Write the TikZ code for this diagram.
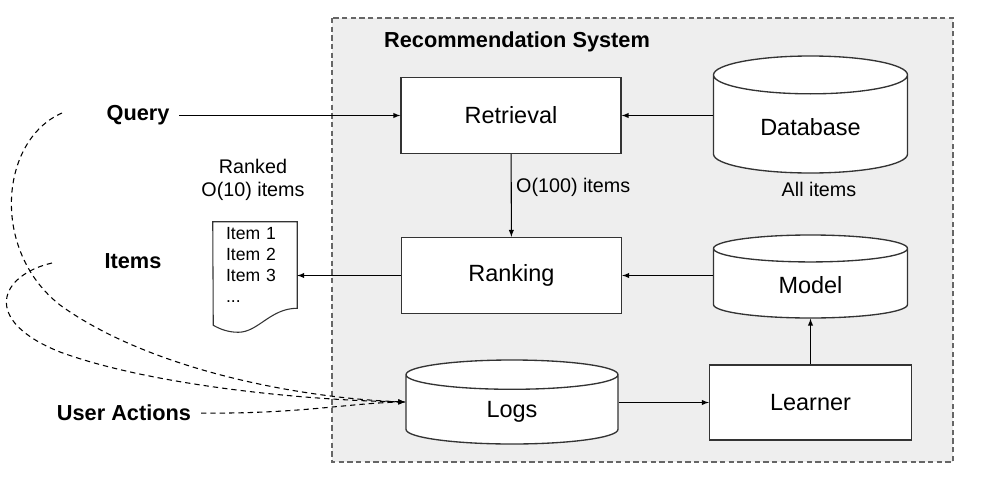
\documentclass[tikz,border=0pt]{standalone}
\usepackage{fontspec}
\setmainfont{Liberation Sans}
\usetikzlibrary{shapes.geometric,arrows}
\definecolor{sysgray}{HTML}{EEEEEE}
\definecolor{framegray}{HTML}{666666}
\definecolor{linegray}{HTML}{333333}

\begin{document}
\begin{tikzpicture}[
x=0.75pt,
y=-0.75pt,
box/.style={
    draw=linegray,
    fill=white,
    line width=1pt,
    font=\fontsize{17.6}{20}\selectfont,
    minimum width=165pt,
    minimum height=57pt
},
store/.style={
    cylinder,
    shape border rotate=90,
    draw=linegray,
    fill=white,
    line width=1pt,
    font=\fontsize{17.6}{20}\selectfont,
    minimum width=145.5pt,
    anchor=shape center
},
outside/.style={
    font=\bfseries\fontsize{16.3}{19}\selectfont
},
note/.style={
    font=\fontsize{14.8}{17.25}\selectfont,
    align=center
},
doc/.style={
    font=\fontsize{13.2}{15.75}\selectfont,
    align=left,
    text width=43.5pt,
    inner xsep=9.75pt,
    minimum height=64.5pt
},
link/.style={
    ->,
    line width=0.8pt
},
feedback/.style={
    ->,
    line width=0.8pt,
    dash pattern=on 4pt off 3pt
},
>=latex
]
\useasboundingbox (0,0) rectangle (1002,496);

\draw[framegray, fill=sysgray, line width=0.8pt, dash pattern=on 4pt off 2.5pt] (332,18) rectangle (953,462);
\node[outside] (systitle) at (517,42) {Recommendation System};

\node[box] (retrieval) at (511,115.5) {Retrieval};
\node[box] (ranking) at (511.5,275.5) {Ranking};
\node[box, minimum width=151.5pt, minimum height=56.25pt] (learner) at (810.5,402.5) {Learner};

\node[store, minimum height=87.75pt, aspect=0.346] (database) at (810.5,114.5) {Database};
\node[store, minimum height=62.25pt, aspect=0.37] (model) at (810.5,276.5) {Model};
\node[store, minimum width=159pt, minimum height=63pt, aspect=0.49] (logs) at (512,402) {Logs};

\node[note] (allitems) at (819,189) {All items};
\node[note] (ranked) at (253,180) {Ranked\\O(10) items};
\node[doc] (list) at (255,265) {Item 1\\Item 2\\Item 3\\...};
\draw[linegray, line width=0.8pt] (list.north west) -- (list.north east) -- (list.south east)
    .. controls +(-27,0) and +(20,0) .. ++(-59,24)
    .. controls +(-10,0) and +(7,4) .. ++(-25,-7) -- cycle;

\node[outside] (query) at (138,115) {Query};
\node[outside] (items) at (133,261) {Items};
\node[outside] (useractions) at (124,413) {User Actions};

\draw[link, shorten <=4pt] (query.east |- retrieval.west) -- (retrieval.west);
\draw[link] (database.west |- retrieval.east) -- (retrieval.east);
\draw[link] (retrieval) -- node[note, right, pos=0.4] {O(100) items} (ranking);
\draw[link] (model.west |- ranking.east) -- (ranking.east);
\draw[link] (ranking.west) -- (ranking.west -| list.east);
\draw[link] (logs.east |- learner.west) -- (learner.west);
\draw[link] (learner) -- (model);

\coordinate (queryend) at (62,113);
\coordinate (itemsend) at (52,263);
\coordinate (logsin) at (logs.west |- logs.shape center);
\draw[feedback] (queryend) .. controls (0,140) and (-10,250) .. (60,305)
    .. controls (150,370) and (300,398) .. (logsin);
\draw[feedback] (itemsend) .. controls (0,275) and (-20,320) .. (60,352)
    .. controls (150,385) and (300,400) .. (logsin);
\draw[feedback, shorten <=4pt] (useractions.east) .. controls (300,414) and (350,403) .. (logsin);
\end{tikzpicture}
\end{document}
